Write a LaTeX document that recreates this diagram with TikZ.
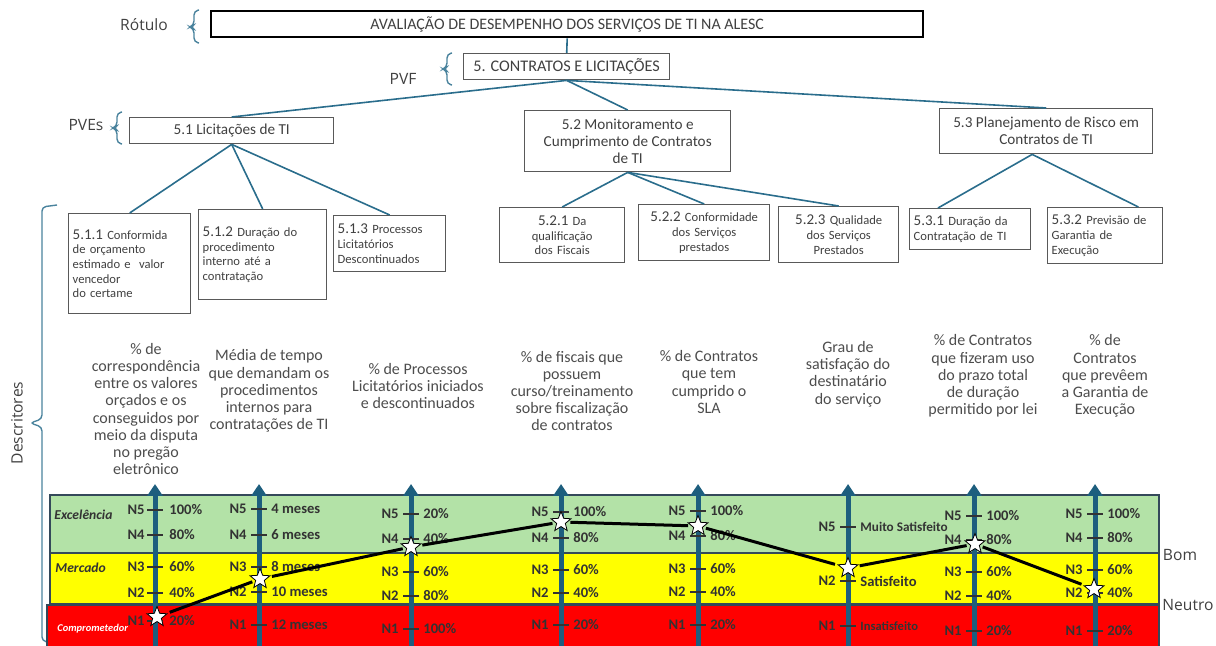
\documentclass[tikz,border=0pt]{standalone}
\usepackage{fontspec}
\setmainfont{Carlito}
\newfontfamily\sidefont{Open Sans}
\usepackage{tikz}
\usetikzlibrary{arrows.meta,shapes.geometric}

\definecolor{treeline}{HTML}{2A6D8C}
\definecolor{axisblue}{HTML}{1D5E7E}
\definecolor{boxtext}{HTML}{404040}
\definecolor{desctext}{HTML}{4D4D4D}
\definecolor{bandgreen}{HTML}{B3E2A7}
\definecolor{bandyellow}{HTML}{FFFF00}
\definecolor{bandred}{HTML}{FF0000}
\definecolor{bandedge}{HTML}{34495A}

\tikzset{
  tbox/.style={draw=black!65, line width=0.7pt, anchor=north west, inner sep=2pt,
    text=boxtext, font=\fontsize{7.6}{8.5}\selectfont, align=center},
  leaf/.style={tbox, font=\fontsize{6.3}{7.3}\selectfont},
  conn/.style={treeline, line width=0.8pt},
  brk/.style={treeline!85, line width=0.7pt, rounded corners=2pt},
  desc/.style={text=desctext, font=\fontsize{8}{8.6}\selectfont, align=center},
  axis/.style={axisblue, line width=2.5pt, -{Triangle[width=7.5pt,length=6pt]}},
  tick/.style={black!80, line width=0.8pt},
  lev/.style={font=\bfseries\fontsize{7.3}{8}\selectfont, text=black!80, inner sep=0pt},
  bandlbl/.style={font=\bfseries\itshape\fontsize{6.8}{8}\selectfont, text=black!80, anchor=west, inner sep=0pt},
  pstar/.style={star, star points=5, star point ratio=2.3, minimum size=10.5pt,
    inner sep=0pt, fill=white, draw=black, line width=0.4pt},
  prof/.style={black, line width=1.5pt, shorten <=1.5pt, shorten >=1.5pt},
  side/.style={font=\sidefont\fontsize{7.8}{9}\selectfont, text=black!75},
}
\newcommand{\numsz}{\fontsize{7.5}{8}\selectfont}

\begin{document}
\begin{tikzpicture}[x=0.5pt, y=-0.5pt]
\useasboundingbox (0,0) rectangle (1216,646);

% side labels and braces
\node[side] (rot) at (144,25) {Rótulo};
\node[side] (pvf) at (403,79) {PVF};
\node[side] (pves) at (86,125) {PVEs};
\node[side, rotate=90] (descr) at (17,423) {Descritores};
\draw[brk] (199,10) -- (194,11) -- (194,25) -- (190,27) -- (194,29) -- (194,42) -- (199,43);
\draw[brk] (452,53) -- (447,54) -- (447,67) -- (443,69) -- (447,71) -- (447,84) -- (452,85);
\draw[brk] (122,112) -- (117,113) -- (117,126) -- (113,128) -- (117,130) -- (117,143) -- (122,144);
\draw[brk] (57,205) -- (42,207) -- (42,419) -- (30,423) -- (42,427) -- (42,641) -- (55,643);

% tree
\node[tbox, draw=black, line width=1.2pt, minimum width=356pt, minimum height=13pt,
  font=\fontsize{8}{9}\selectfont] (main) at (210,10)
  {AVALIAÇÃO DE DESEMPENHO DOS SERVIÇOS DE TI NA ALESC};
\node[tbox, minimum width=103pt, minimum height=13pt, font=\fontsize{8.1}{9}\selectfont] (c5) at (463,53)
  {5. CONTRATOS E LICITAÇÕES};
\node[tbox, minimum width=102pt, minimum height=13pt] (s51) at (129,117) {5.1 Licitações de TI};
\node[tbox, minimum width=103pt, minimum height=30.5pt] (s52) at (524,110)
  {5.2 Monitoramento e\\Cumprimento de Contratos\\de TI};
\node[tbox, minimum width=106.5pt, minimum height=22.5pt] (s53) at (939,108)
  {5.3 Planejamento de Risco em\\Contratos de TI};

\node[leaf, align=left, text width=57pt, minimum height=50pt] (s511) at (68,213)
  {{\numsz 5.1.1} Conformida\\de orçamento\\estimado e\ \ valor\\vencedor\\do certame\\[5pt]};
\node[leaf, align=left, text width=60pt, minimum height=45pt] (s512) at (198,209)
  {{\numsz 5.1.2} Duração do\\procedimento\\interno até a\\contratação\\[6pt]};
\node[leaf, align=left, text width=52pt, minimum height=28pt] (s513) at (333,215)
  {{\numsz 5.1.3} Processos\\Licitatórios\\Descontinuados};
\node[leaf, text width=58.5pt, minimum height=27.5pt] (s521) at (499,207)
  {{\numsz 5.2.1} Da\\qualificação\\dos Fiscais};
\node[leaf, text width=61.5pt, minimum height=28pt] (s522) at (638,204)
  {{\numsz 5.2.2} Conformidade\\dos Serviços\\prestados};
\node[leaf, text width=56pt, minimum height=28pt] (s523) at (778,206)
  {{\numsz 5.2.3} Qualidade\\dos Serviços\\Prestados};
\node[leaf, align=left, text width=56.5pt, minimum height=20.5pt] (s531) at (909,208)
  {{\numsz 5.3.1} Duração da\\Contratação de TI};
\node[leaf, align=left, text width=53.5pt, minimum height=28pt] (s532) at (1047,207)
  {{\numsz 5.3.2} Previsão de\\Garantia de\\Execução};

\draw[conn] (main.south) -- (c5.north);
\draw[conn] (c5.south) -- (s51.north);
\draw[conn] (c5.south) -- (s52.north);
\draw[conn] (c5.south) -- (s53.north);
\draw[conn] (s51.south) -- (s511.north);
\draw[conn] (s51.south) -- (s512.north);
\draw[conn] (s51.south) -- (s513.north);
\draw[conn] (s52.south) -- (s521.north);
\draw[conn] (s52.south) -- (s522.north);
\draw[conn] (s52.south) -- (s523.north);
\draw[conn] ([xshift=-7pt]s53.south) -- ([xshift=14.5pt]s531.north west);
\draw[conn] ([xshift=-7pt]s53.south) -- ([xshift=-12.5pt]s532.north east);

% descriptors
\node[desc] (d1) at (146,409) {\% de\\correspondência\\entre os valores\\orçados e os\\conseguidos por\\meio da disputa\\no pregão\\eletrônico};
\node[desc] (d2) at (269,391) {Média de tempo\\que demandam os\\procedimentos\\internos para\\contratações de TI};
\node[desc] (d3) at (418,386) {\% de Processos\\Licitatórios iniciados\\e descontinuados};
\node[desc] (d4) at (572,391) {\% de fiscais que\\possuem\\curso/treinamento\\sobre fiscalização\\de contratos};
\node[desc] (d5) at (709,382) {\% de Contratos\\que tem\\cumprido o\\SLA};
\node[desc] (d6) at (848,374) {Grau de\\satisfação do\\destinatário\\do serviço};
\node[desc] (d7) at (983,376) {\% de Contratos\\que fizeram uso\\do prazo total\\de duração\\permitido por lei};
\node[desc] (d8) at (1105,376) {\% de\\Contratos\\que prevêem\\a Garantia de\\Execução};

% bands
\filldraw[fill=bandgreen, draw=bandedge, line width=0.6pt] (50,495) rectangle (1159,553);
\filldraw[fill=bandyellow, draw=bandedge, line width=0.6pt] (50,553) rectangle (1159,604);
\filldraw[fill=bandred, draw=bandedge, line width=0.6pt] (47,605) rectangle (1159,652);
\node[bandlbl] (exc) at (54,515) {Excelência};
\node[bandlbl] (mer) at (55,568) {Mercado};
\node[bandlbl, text=white, font=\bfseries\itshape\fontsize{5.2}{6}\selectfont] (comp) at (57,629) {Comprometedor};
\node[side] (bom) at (1180,555) {Bom};
\node[side] (neutro) at (1188,605) {Neutro};

% axes
\coordinate (a1b) at (155,650); \coordinate (a1t) at (155,484);
\coordinate (a2b) at (259,650); \coordinate (a2t) at (259,484);
\coordinate (a3b) at (411,650); \coordinate (a3t) at (411,484);
\coordinate (a4b) at (561,650); \coordinate (a4t) at (561,484);
\coordinate (a5b) at (698,650); \coordinate (a5t) at (698,484);
\coordinate (a6b) at (848,650); \coordinate (a6t) at (848,484);
\coordinate (a7b) at (974,650); \coordinate (a7t) at (974,484);
\coordinate (a8b) at (1095,650); \coordinate (a8t) at (1095,484);
\foreach \a in {1,...,8}{
  \draw[axis] (a\a b) -- (a\a t);
}

\foreach \yy/\nn/\vv in {510/N5/100\%, 535/N4/80\%, 567/N3/60\%, 593/N2/40\%, 621/N1/20\%}{
  \draw[tick] (155-8,\yy) -- (155+8,\yy);
  \node[lev, anchor=east] (n1\nn) at (155-10,\yy) {\nn};
  \node[lev, anchor=west] (v1\nn) at (155+14,\yy) {\vv};
}
\foreach \yy/\nn/\vv in {509/N5/4 meses, 535/N4/6 meses, 567/N3/8 meses, 592/N2/10 meses, 625/N1/12 meses}{
  \draw[tick] (259-8,\yy) -- (259+8,\yy);
  \node[lev, anchor=east] (n2\nn) at (259-12,\yy) {\nn};
  \node[lev, anchor=west] (v2\nn) at (259+12,\yy) {\vv};
}
\foreach \yy/\nn/\vv in {514/N5/20\%, 539/N4/40\%, 572/N3/60\%, 596/N2/80\%, 629/N1/100\%}{
  \draw[tick] (411-8,\yy) -- (411+8,\yy);
  \node[lev, anchor=east] (n3\nn) at (411-12,\yy) {\nn};
  \node[lev, anchor=west] (v3\nn) at (411+12,\yy) {\vv};
}
\foreach \yy/\nn/\vv in {512/N5/100\%, 538/N4/80\%, 570/N3/60\%, 593/N2/40\%, 625/N1/20\%}{
  \draw[tick] (561-8,\yy) -- (561+8,\yy);
  \node[lev, anchor=east] (n4\nn) at (561-12,\yy) {\nn};
  \node[lev, anchor=west] (v4\nn) at (561+12,\yy) {\vv};
}
\foreach \yy/\nn/\vv in {511/N5/100\%, 536/N4/80\%, 569/N3/60\%, 592/N2/40\%, 625/N1/20\%}{
  \draw[tick] (698-8,\yy) -- (698+8,\yy);
  \node[lev, anchor=east] (n5\nn) at (698-12,\yy) {\nn};
  \node[lev, anchor=west] (v5\nn) at (698+12,\yy) {\vv};
}
\foreach \yy/\nn/\vv in {527/N5/{\fontsize{6.6}{7}\selectfont Muito Satisfeito}, 581/N2/Satisfeito, 626/N1/{\fontsize{6.3}{7}\selectfont Insatisfeito}}{
  \draw[tick] (848-8,\yy) -- (848+8,\yy);
  \node[lev, anchor=east] (n6\nn) at (848-12,\yy) {\nn};
  \node[lev, anchor=west] (v6\nn) at (848+12,\yy) {\vv};
}
\foreach \yy/\nn/\vv in {516/N5/100\%, 540/N4/80\%, 572/N3/60\%, 596/N2/40\%, 631/N1/20\%}{
  \draw[tick] (974-8,\yy) -- (974+8,\yy);
  \node[lev, anchor=east] (n7\nn) at (974-12,\yy) {\nn};
  \node[lev, anchor=west] (v7\nn) at (974+12,\yy) {\vv};
}
\foreach \yy/\nn/\vv in {514/N5/100\%, 538/N4/80\%, 570/N3/60\%, 593/N2/40\%, 631/N1/20\%}{
  \draw[tick] (1095-8,\yy) -- (1095+8,\yy);
  \node[lev, anchor=east] (n8\nn) at (1095-12,\yy) {\nn};
  \node[lev, anchor=west] (v8\nn) at (1095+12,\yy) {\vv};
}

% profile
\node[pstar] (p1) at (157,617) {};
\node[pstar] (p2) at (260,579) {};
\node[pstar] (p3) at (411,547) {};
\node[pstar] (p4) at (561,522) {};
\node[pstar] (p5) at (698,526) {};
\node[pstar] (p6) at (848,568) {};
\node[pstar] (p7) at (975,544) {};
\node[pstar] (p8) at (1094,589) {};
\draw[prof] (p1) -- (p2);
\draw[prof] (p2) -- (p3);
\draw[prof] (p3) -- (p4);
\draw[prof] (p4) -- (p5);
\draw[prof] (p5) -- (p6);
\draw[prof] (p6) -- (p7);
\draw[prof] (p7) -- (p8);

\end{tikzpicture}
\end{document}
